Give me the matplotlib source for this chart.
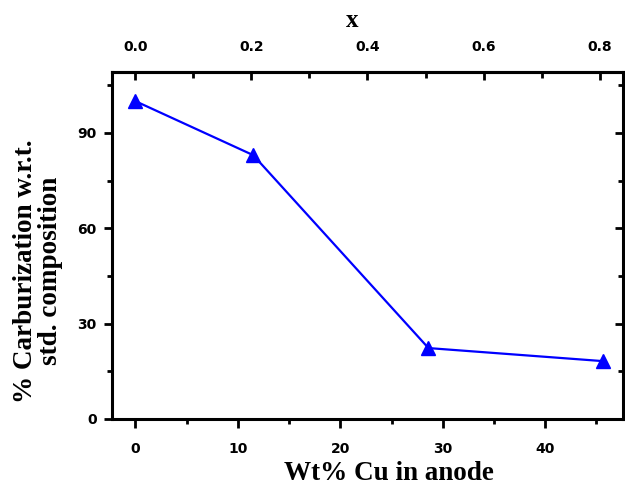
import matplotlib
matplotlib.use("Agg")
import matplotlib.pyplot as plt
from matplotlib.ticker import MultipleLocator
from matplotlib.font_manager import FontProperties
from matplotlib.lines import TICKLEFT

# Copper content in the anode (wt%) and the matching composition parameter x
wt_cu = [0, 11.5, 28.6, 45.6]
x_comp = [0.0, 0.2, 0.5, 0.8]
carburization = [100, 83, 22.3, 18.2]

bottom_ticks = [0, 10, 20, 30, 40]
top_ticks = [0.0, 0.2, 0.4, 0.6, 0.8]
y_ticks = [0, 30, 60, 90]

fig = plt.figure(figsize=(6.25, 4.86), dpi=100)
ax = fig.add_axes([0.179, 0.138, 0.818, 0.714])

ax.plot(wt_cu, carburization, color="#0000ff", lw=1.6, marker="^",
        ms=9.5, markeredgecolor="#0000ff")

ax.set_xlim(-2.3, 47.6)
ax.set_ylim(0, 109.2)
ax.set_xticks(bottom_ticks)
ax.set_yticks(y_ticks)
ax.xaxis.set_minor_locator(MultipleLocator(5))
ax.yaxis.set_minor_locator(MultipleLocator(15))

tick_fp = FontProperties(family="DejaVu Sans", weight="bold", size=10)
for lab in ax.get_xticklabels() + ax.get_yticklabels():
    lab.set_fontproperties(tick_fp)

ax.tick_params(axis="x", which="major", direction="out", length=6.5, width=2,
               pad=10, top=False)
ax.tick_params(axis="x", which="minor", direction="out", length=3.5, width=2,
               top=False)
ax.tick_params(axis="y", which="major", direction="out", length=6, width=2,
               pad=5, right=True)
ax.tick_params(axis="y", which="minor", direction="out", length=3.5, width=2,
               right=True)
for side in ["left", "bottom", "top", "right"]:
    ax.spines[side].set_linewidth(2.2)

# Right-hand ticks point inward, left/bottom point outward
ax.yaxis.set_tick_params(which="both", right=True, labelright=False)
for t in ax.yaxis.get_major_ticks() + ax.yaxis.get_minor_ticks():
    t.tick2line.set_marker(TICKLEFT)

# Secondary composition axis along the top
wt_to_x = 0.8 / 45.3
top = ax.secondary_xaxis("top", functions=(lambda w: w * wt_to_x,
                                           lambda v: v / wt_to_x))
top.set_xticks(top_ticks)
top.xaxis.set_minor_locator(MultipleLocator(0.1))
top.tick_params(which="major", direction="in", length=6, width=2, pad=13)
top.tick_params(which="minor", direction="in", length=4, width=2)
top.set_xticklabels([f"{v:.1f}" for v in top_ticks])
for lab in top.get_xticklabels():
    lab.set_fontproperties(tick_fp)
top.spines["top"].set_linewidth(2.2)
top.set_xlabel("x", family="Liberation Serif", weight="bold", size=18)
top.xaxis.set_label_coords(0.47, 1.13, transform=ax.transAxes)

label_font = dict(family="Liberation Serif", weight="bold", size=19.5)
ax.set_xlabel("Wt% Cu in anode", **label_font)
ax.xaxis.set_label_coords(0.541, -0.12)
ax.set_ylabel("% Carburization w.r.t.\nstd. composition",
              linespacing=1.0, **label_font)
ax.yaxis.set_label_coords(-0.096, 0.426)

fig.savefig("out.png", dpi=100)
